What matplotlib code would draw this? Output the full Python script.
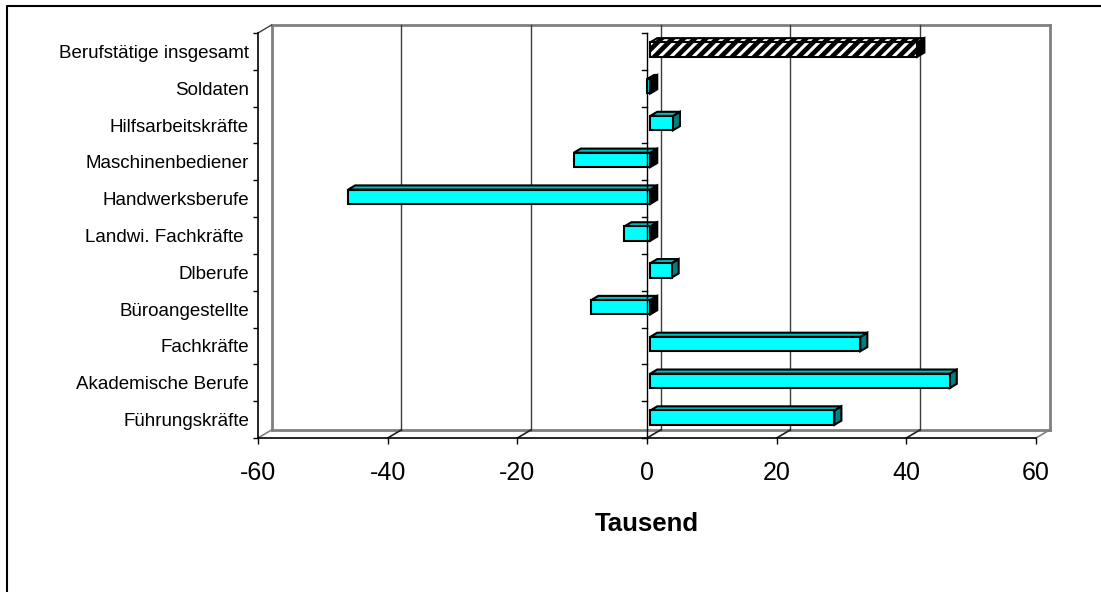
import matplotlib.pyplot as plt
from matplotlib.patches import Polygon
from matplotlib.lines import Line2D

plt.rcParams['font.family'] = ['Liberation Sans', 'DejaVu Sans']
plt.rcParams['hatch.linewidth'] = 3.4

# bottom to top, as the category axis runs
categories = ['Führungskräfte', 'Akademische Berufe', 'Fachkräfte', 'Büroangestellte',
              'Dlberufe', 'Landwi. Fachkräfte ', 'Handwerksberufe', 'Maschinenbediener',
              'Hilfsarbeitskräfte', 'Soldaten', 'Berufstätige insgesamt']
values = [28.4, 46.2, 32.4, -9.1, 3.3, -4.0, -46.6, -11.8, 3.5, -0.5, 41.2]
hatched = [False] * 10 + [True]
x_ticks = [-60, -40, -20, 0, 20, 40, 60]

W, H = 1101, 592
fig = plt.figure(figsize=(W / 100, H / 100), dpi=100)
ax_px = (258, 33, 1036, 438)  # left, top, right, bottom in image pixels
ax = fig.add_axes([ax_px[0] / W, 1 - ax_px[3] / H,
                   (ax_px[2] - ax_px[0]) / W, (ax_px[3] - ax_px[1]) / H])
ax.set_xlim(x_ticks[0], x_ticks[-1])
ax.set_ylim(0, len(categories))

# data units per pixel
ux = (x_ticks[-1] - x_ticks[0]) / (ax_px[2] - ax_px[0])
uy = len(categories) / (ax_px[3] - ax_px[1])
DX, DY = 13.5 * ux, 8.0 * uy  # full floor depth


def sh(x, y, d):
    return (x + d * DX, y + d * DY)


x0, x1 = x_ticks[0], x_ticks[-1]
ny = len(categories)

# back wall box and gridlines
wall = '#808080'
ax.plot([sh(x0, 0, 1)[0], sh(x1, 0, 1)[0]], [DY, DY], color=wall, lw=2, clip_on=False, zorder=1)
ax.plot([sh(x0, ny, 1)[0], sh(x1, ny, 1)[0]], [ny + DY, ny + DY], color=wall, lw=2, clip_on=False, zorder=1)
for xv in (x0, x1):
    ax.plot([xv + DX, xv + DX], [DY, ny + DY], color=wall, lw=2, clip_on=False, zorder=1)
for xv in x_ticks[1:-1]:
    ax.plot([xv + DX, xv + DX], [DY, ny + DY], color='#3c3c3c', lw=1, clip_on=False, zorder=1)
for xv in x_ticks:
    c = wall if xv in (x0, x1) else '#202020'
    ax.plot([xv, xv + DX], [0, DY], color=c, lw=1.2, clip_on=False, zorder=1)
ax.plot([x0, x0 + DX], [ny, ny + DY], color='#404040', lw=1, clip_on=False, zorder=1)

# 3d bars
d0, d1 = 0.24, 0.76
hh = 0.195
for i, (v, h) in enumerate(zip(values, hatched)):
    yc = i + 0.5
    a, b = min(0, v), max(0, v)
    yb, yt = yc - hh, yc + hh
    front = [sh(a, yb, d0), sh(b, yb, d0), sh(b, yt, d0), sh(a, yt, d0)]
    top = [sh(a, yt, d0), sh(b, yt, d0), sh(b, yt, d1), sh(a, yt, d1)]
    side = [sh(b, yb, d0), sh(b, yt, d0), sh(b, yt, d1), sh(b, yb, d1)]
    if h:
        fc_front, fc_top, fc_side, hatch = 'white', 'white', 'black', '///'
    else:
        fc_front, fc_top, hatch = '#00FFFF', '#00BFBF', None
        fc_side = '#008080' if v > 0 else 'black'
    for pts, fc in ((side, fc_side), (top, fc_top), (front, fc_front)):
        ax.add_patch(Polygon(pts, closed=True, facecolor=fc, edgecolor='black',
                             lw=1.5, hatch=hatch, clip_on=False, zorder=3))

# category axis crossing at zero
ax.plot([0, 0], [0, ny], color='black', lw=1, clip_on=False, zorder=5)
for b in range(ny + 1):
    ax.plot([-5 * ux, 0], [b, b], color='black', lw=1, clip_on=False, zorder=5)

# axes, ticks, labels
for s in ('top', 'right'):
    ax.spines[s].set_visible(False)
for s in ('left', 'bottom'):
    ax.spines[s].set_linewidth(1.2)
    ax.spines[s].set_zorder(6)
ax.set_xticks(x_ticks)
ax.set_xticklabels([str(t) for t in x_ticks])
ax.tick_params(axis='x', length=4.3, width=1, labelsize=18, pad=12.5)
ax.set_yticks(range(ny + 1))
ax.set_yticklabels([])
ax.set_yticks([i + 0.5 for i in range(ny)], minor=True)
ax.set_yticklabels(categories, minor=True)
ax.tick_params(axis='y', which='major', length=3.6, width=1)
ax.tick_params(axis='y', which='minor', length=0, labelsize=13.5, pad=6.5)
ax.set_xlabel('Tausend', fontsize=18.5, fontweight='bold', labelpad=19.5)
ax.set_facecolor('none')

fig.add_artist(Line2D([7 / W, 7 / W, 1.01], [-0.01, 1 - 6 / H, 1 - 6 / H],
                      transform=fig.transFigure, color='black', lw=1.5))

fig.savefig('out.png', dpi=100)
